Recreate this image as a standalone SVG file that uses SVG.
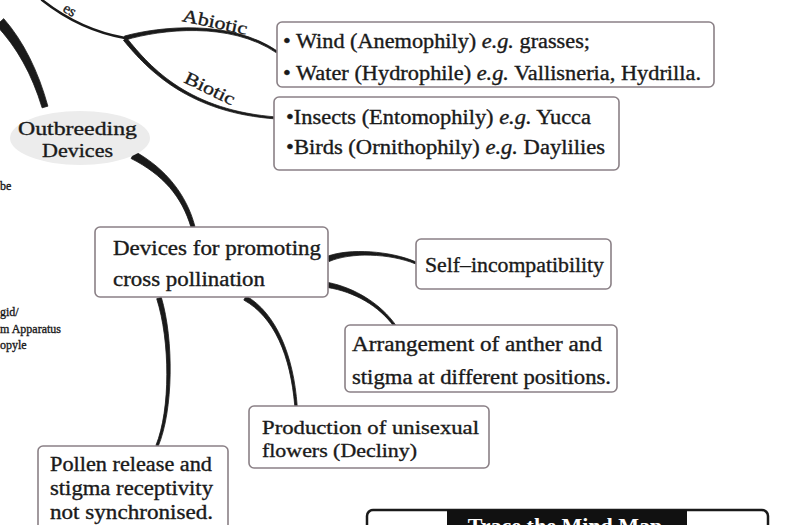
<svg xmlns="http://www.w3.org/2000/svg" width="787" height="525" viewBox="0 0 787 525">
<style>
.t{font-family:"Liberation Serif","DejaVu Serif",serif;fill:#1a1a1a;stroke:#1a1a1a;stroke-width:0.35}
.box{fill:#fff;stroke:#8a8086;stroke-width:1.6}
.c{fill:none;stroke:#1a1a1a;stroke-linecap:round}
.f{fill:#1a1a1a;stroke:#1a1a1a;stroke-width:0.8;stroke-linejoin:round}
.i{font-style:italic}
</style>
<rect width="787" height="525" fill="#fff"/>
<g id="connectors">
<path class="f" d="M-3.7 25.37 C16.67 47.03 31.64 73.3 42.12 107.83 L47.88 106.17 C38.36 71.36 23.33 40.97 3.7 18.63 Z"/>
<path class="c" d="M42 0 Q80 30 125 38" stroke-width="2.5"/>
<path class="f" d="M125.55 39.92 C160.47 29.64 229.33 20.99 276.44 52.83 L277.56 51.17 C230.67 19.01 159.53 26.36 124.45 36.08 Z"/>
<path class="f" d="M123.44 40.26 C148.68 71.07 189.92 113.2 276.93 119 L277.07 117 C190.08 110.8 151.32 68.93 126.56 37.74 Z"/>
<path class="f" d="M131.12 158.53 C162.78 174.58 181.92 196.34 191.07 227.53 L194.93 226.47 C186.74 195 165.88 168.76 134.88 151.47 Z"/>
<path class="f" d="M329.04 261.55 C350.83 252.04 389.45 253.29 415.61 263.92 L416.39 262.08 C390.55 250.71 349.17 247.96 326.96 256.45 Z"/>
<path class="f" d="M327.54 287.46 C354.64 291.97 378.86 305.81 394.1 326.64 L395.9 325.36 C381.14 304.19 355.36 288.03 328.46 282.54 Z"/>
<path class="f" d="M243.82 300.09 C274.01 316.74 290.5 355.12 294.8 406.09 L297.2 405.91 C293.5 354.88 275.99 313.26 246.18 295.91 Z"/>
<path class="f" d="M156.71 298.71 C170.09 340.59 170.62 409.42 155.89 445.54 L158.11 446.46 C173.38 410.58 173.91 339.41 161.29 297.29 Z"/>
</g>
<g id="edge-text">
<text class="t" x="63" y="15" font-size="15" transform="rotate(30 70 11)">es</text>
<text class="t" x="0" y="190" font-size="12">be</text>
<text class="t" x="0" y="316" font-size="12">gid/</text>
<text class="t" x="0" y="333" font-size="12">m Apparatus</text>
<text class="t" x="0" y="349" font-size="12">opyle</text>
</g>
<g id="label-abiotic"><text class="t" x="182" y="28" font-size="18" textLength="66" lengthAdjust="spacingAndGlyphs" transform="rotate(12 215 22)">Abiotic</text></g>
<g id="label-biotic"><text class="t" x="183" y="94" font-size="18" textLength="54" lengthAdjust="spacingAndGlyphs" transform="rotate(26 209 88)">Biotic</text></g>
<g id="outbreeding">
<ellipse cx="80" cy="138" rx="70" ry="27" fill="#ececec"/>
<text class="t" x="18" y="135" font-size="19" textLength="119" lengthAdjust="spacingAndGlyphs">Outbreeding</text>
<text class="t" x="42" y="157" font-size="19" textLength="71" lengthAdjust="spacingAndGlyphs">Devices</text>
</g>
<g id="abiotic">
<rect class="box" x="277" y="22" width="437" height="65" rx="5"/>
<text class="t" x="283" y="48" font-size="20" textLength="307" lengthAdjust="spacingAndGlyphs">• Wind (Anemophily) <tspan class="i">e.g.</tspan> grasses;</text>
<text class="t" x="283" y="80" font-size="20" textLength="418" lengthAdjust="spacingAndGlyphs">• Water (Hydrophile) <tspan class="i">e.g.</tspan> Vallisneria, Hydrilla.</text>
</g>
<g id="biotic">
<rect class="box" x="274" y="97" width="345" height="73" rx="5"/>
<text class="t" x="286" y="124" font-size="20" textLength="305" lengthAdjust="spacingAndGlyphs">•Insects (Entomophily) <tspan class="i">e.g.</tspan> Yucca</text>
<text class="t" x="286" y="154" font-size="20" textLength="319" lengthAdjust="spacingAndGlyphs">•Birds (Ornithophily)  <tspan class="i">e.g.</tspan> Daylilies</text>
</g>
<g id="devices">
<rect class="box" x="95" y="227" width="233" height="70" rx="5"/>
<text class="t" x="113" y="255" font-size="20" textLength="208" lengthAdjust="spacingAndGlyphs">Devices for promoting</text>
<text class="t" x="113" y="286" font-size="20" textLength="152" lengthAdjust="spacingAndGlyphs">cross pollination</text>
</g>
<g id="self">
<rect class="box" x="416" y="239" width="195" height="50" rx="5"/>
<text class="t" x="425" y="272" font-size="20" textLength="179" lengthAdjust="spacingAndGlyphs">Self–incompatibility</text>
</g>
<g id="arrangement">
<rect class="box" x="345" y="325" width="272" height="67" rx="5"/>
<text class="t" x="352" y="351" font-size="20" textLength="250" lengthAdjust="spacingAndGlyphs">Arrangement of anther and</text>
<text class="t" x="352" y="384" font-size="20" textLength="259" lengthAdjust="spacingAndGlyphs">stigma at different positions.</text>
</g>
<g id="production">
<rect class="box" x="249" y="406" width="240" height="62" rx="5"/>
<text class="t" x="262" y="434" font-size="19" textLength="217" lengthAdjust="spacingAndGlyphs">Production of unisexual</text>
<text class="t" x="262" y="457" font-size="19" textLength="155" lengthAdjust="spacingAndGlyphs">flowers (Decliny)</text>
</g>
<g id="pollen">
<rect class="box" x="38" y="446" width="190" height="90" rx="5"/>
<text class="t" x="50" y="471" font-size="20" textLength="162" lengthAdjust="spacingAndGlyphs">Pollen release and</text>
<text class="t" x="50" y="495" font-size="20" textLength="163" lengthAdjust="spacingAndGlyphs">stigma receptivity</text>
<text class="t" x="50" y="519" font-size="20" textLength="163" lengthAdjust="spacingAndGlyphs">not synchronised.</text>
</g>
<g id="trace">
<rect x="367" y="510" width="401" height="30" rx="6" fill="#fff" stroke="#1a1a1a" stroke-width="2.5"/>
<rect x="447" y="510" width="240" height="30" fill="#111"/>
<text x="565" y="533" font-size="22" font-weight="bold" text-anchor="middle" font-family="Liberation Serif, serif" fill="#fff">Trace the Mind Map</text>
</g>
</svg>
